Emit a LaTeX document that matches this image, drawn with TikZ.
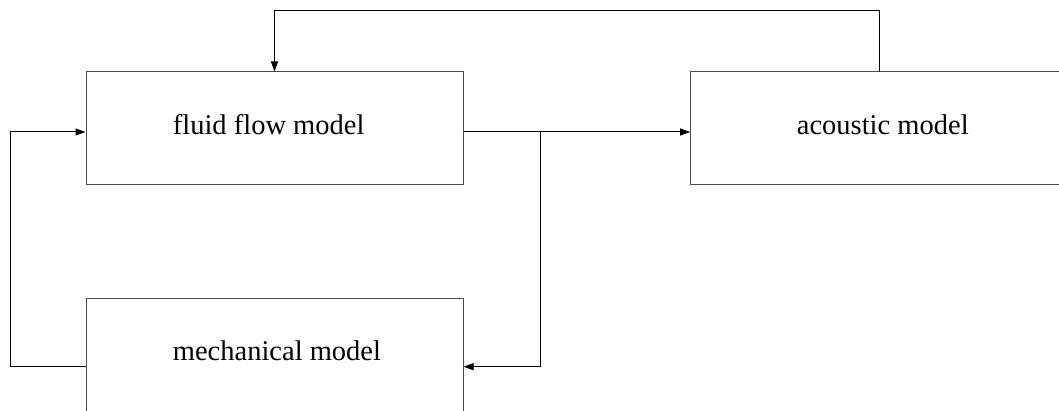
\documentclass[tikz,border=0pt]{standalone}
\usepackage{fontspec}
\setmainfont{Liberation Serif}
\usetikzlibrary{arrows.meta}
\begin{document}
\begin{tikzpicture}[x=1pt,y=1pt,
  modelbox/.style={draw=black!70,line width=1pt,minimum width=377pt,minimum height=113pt,inner sep=0pt},
  boxlabel/.style={anchor=base west,inner sep=0pt,font=\fontsize{28.5}{34}\selectfont},
  link/.style={draw=black,line width=1pt,-{Triangle[length=10pt,width=7pt]}}]
\useasboundingbox (0,0) rectangle (1059,410);
\clip (0,0) rectangle (1059,410);
\fill[white] (0,0) rectangle (1059,410);
\node[modelbox] (fluid) at (274.5,281.5) {};
\node[modelbox] (acoustic) at (879.2,281.5) {};
\node[modelbox] (mech) at (274.5,54.8) {};
\node[boxlabel] (tf) at (172.7,275) {fluid flow model};
\node[boxlabel] (ta) at (796.7,275) {acoustic model};
\node[boxlabel] (tm) at (172.7,49.3) {mechanical model};
\coordinate (top) at (0,399);
\coordinate (split) at (540,278);
\coordinate (leftx) at (10,0);
\coordinate (fin) at (0,278);
\coordinate (min) at (0,43.3);
\draw[link] (acoustic.north) -- (acoustic.north |- top) -- (fluid.north |- top) -- (fluid.north);
\draw[link] (fluid.east |- fin) -- (acoustic.west |- fin);
\draw[link] (split) |- (mech.east |- min);
\draw[link] (mech.west |- min) -- (leftx |- min) -- (leftx |- fin) -- (fluid.west |- fin);
\end{tikzpicture}
\end{document}
